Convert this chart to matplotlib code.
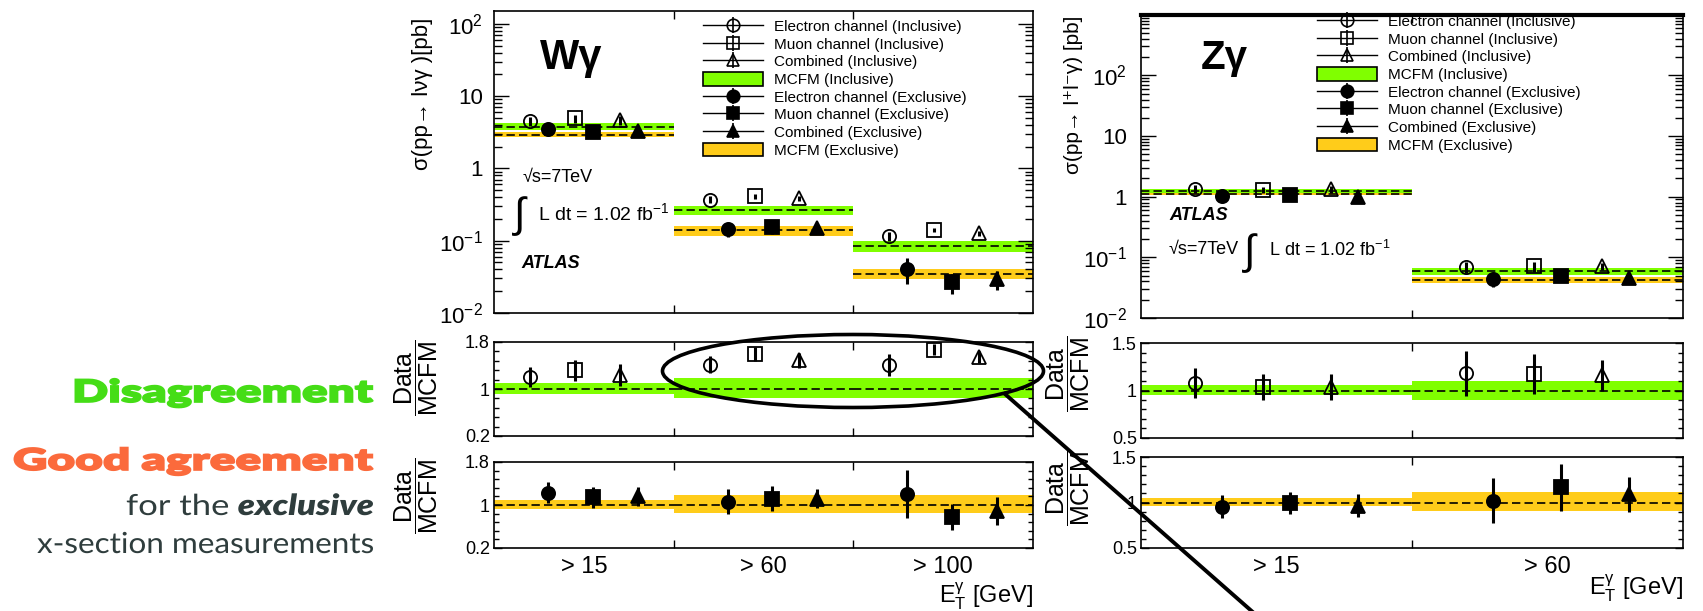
import numpy as np
import matplotlib
matplotlib.use('Agg')
import matplotlib.pyplot as plt
from matplotlib.lines import Line2D
from matplotlib.patches import Patch, Ellipse, PathPatch
from matplotlib.ticker import FixedLocator, LogLocator, NullFormatter
from matplotlib.textpath import TextPath
from matplotlib.font_manager import FontProperties
from matplotlib.transforms import Affine2D

W, H = 1703, 611

plt.rcParams['font.family'] = ['Liberation Sans', 'DejaVu Sans']
plt.rcParams['mathtext.fontset'] = 'custom'
plt.rcParams['mathtext.rm'] = 'Liberation Sans'
plt.rcParams['mathtext.it'] = 'Liberation Sans:italic'
plt.rcParams['mathtext.bf'] = 'Liberation Sans:bold'

# ---- W gamma cross sections [pb], one entry per E_T bin ----
wg_bins = ['> 15', '> 60', '> 100']
wg_el_incl = [4.5, 0.37, 0.115]
wg_mu_incl = [4.9, 0.41, 0.14]
wg_comb_incl = [4.6, 0.385, 0.126]
wg_el_excl = [3.45, 0.143, 0.041]
wg_mu_excl = [3.2, 0.154, 0.0265]
wg_comb_excl = [3.3, 0.149, 0.0295]
wg_el_incl_err = [0.6, 0.04, 0.015]
wg_mu_incl_err = [0.65, 0.03, 0.008]
wg_comb_incl_err = [0.65, 0.03, 0.009]
wg_el_excl_err = [0.55, 0.03, 0.016]
wg_mu_excl_err = [0.55, 0.03, 0.008]
wg_comb_excl_err = [0.5, 0.025, 0.0085]
wg_mcfm_incl = [3.78, 0.265, 0.084]
wg_mcfm_incl_lo = [3.4, 0.23, 0.070]
wg_mcfm_incl_hi = [4.2, 0.30, 0.098]
wg_mcfm_excl = [2.9, 0.14, 0.0345]
wg_mcfm_excl_lo = [2.7, 0.115, 0.0296]
wg_mcfm_excl_hi = [3.2, 0.159, 0.041]

# W gamma data / MCFM
wg_r_el_incl = [1.20, 1.41, 1.41]
wg_r_mu_incl = [1.32, 1.60, 1.67]
wg_r_comb_incl = [1.24, 1.49, 1.54]
wg_r_el_incl_err = [0.17, 0.145, 0.185]
wg_r_mu_incl_err = [0.18, 0.12, 0.095]
wg_r_comb_incl_err = [0.185, 0.125, 0.105]
wg_r_el_excl = [1.23, 1.06, 1.20]
wg_r_mu_excl = [1.14, 1.12, 0.78]
wg_r_comb_excl = [1.16, 1.12, 0.89]
wg_r_el_excl_err = [0.2, 0.23, 0.445]
wg_r_mu_excl_err = [0.195, 0.235, 0.24]
wg_r_comb_excl_err = [0.175, 0.185, 0.255]
wg_r_band_incl_lo = [0.92, 0.85, 0.85]
wg_r_band_incl_hi = [1.11, 1.18, 1.18]
wg_r_band_excl_lo = [0.93, 0.85, 0.85]
wg_r_band_excl_hi = [1.09, 1.18, 1.18]

# ---- Z gamma cross sections [pb] ----
zg_bins = ['> 15', '> 60']
zg_el_incl = [1.34, 0.069]
zg_mu_incl = [1.30, 0.071]
zg_comb_incl = [1.32, 0.071]
zg_el_excl = [1.03, 0.044]
zg_mu_excl = [1.07, 0.0497]
zg_comb_excl = [1.0, 0.0455]
zg_el_incl_err = [0.19, 0.014]
zg_mu_incl_err = [0.17, 0.013]
zg_comb_incl_err = [0.17, 0.01]
zg_el_excl_err = [0.14, 0.011]
zg_mu_excl_err = [0.13, 0.011]
zg_comb_excl_err = [0.13, 0.008]
zg_mcfm_incl = [1.24, 0.0585]
zg_mcfm_incl_lo = [1.15, 0.052]
zg_mcfm_incl_hi = [1.34, 0.066]
zg_mcfm_excl = [1.12, 0.0416]
zg_mcfm_excl_lo = [1.06, 0.0376]
zg_mcfm_excl_hi = [1.18, 0.047]

# Z gamma data / MCFM
zg_r_el_incl = [1.08, 1.18]
zg_r_mu_incl = [1.035, 1.17]
zg_r_comb_incl = [1.04, 1.16]
zg_r_el_incl_err = [0.155, 0.235]
zg_r_mu_incl_err = [0.135, 0.21]
zg_r_comb_incl_err = [0.135, 0.16]
zg_r_el_excl = [0.955, 1.02]
zg_r_mu_excl = [0.99, 1.165]
zg_r_comb_excl = [0.965, 1.09]
zg_r_el_excl_err = [0.13, 0.25]
zg_r_mu_excl_err = [0.12, 0.26]
zg_r_comb_excl_err = [0.125, 0.19]
zg_r_band_incl_lo = [0.95, 0.905]
zg_r_band_incl_hi = [1.055, 1.10]
zg_r_band_excl_lo = [0.96, 0.91]
zg_r_band_excl_hi = [1.05, 1.11]

GREEN = '#80ff00'
YELLOW = '#ffcc1a'
# offsets of the three channels inside each bin
OFF_INCL = [0.2, 0.45, 0.7]
OFF_EXCL = [0.3, 0.55, 0.8]
MARKERS = ['o', 's', '^']

fig = plt.figure(figsize=(W / 100, H / 100), dpi=100)


def fx(px):
    return px / W


def fy(py):
    return 1 - py / H


def add_axes_px(x0, y0, x1, y1):
    return fig.add_axes([fx(x0), fy(y1), (x1 - x0) / W, (y1 - y0) / H])


def style_axes(ax, nbins, ylen, ylen_minor, bin_labels=None):
    ax.set_xlim(0, nbins)
    ax.set_xticks(np.arange(1, nbins))
    ax.set_xticklabels([])
    centers = np.arange(nbins) + 0.5
    ax.set_xticks(centers, bin_labels if bin_labels else [''] * nbins, minor=True)
    ax.tick_params(axis='x', which='major', direction='in', top=True, length=6, width=1)
    ax.tick_params(axis='x', which='minor', length=0, labelsize=17, pad=6, top=True)
    ax.tick_params(axis='y', which='major', direction='in', right=True, length=ylen, width=1)
    ax.tick_params(axis='y', which='minor', direction='in', right=True, length=ylen_minor, width=1)
    for s in ax.spines.values():
        s.set_linewidth(1.2)


def log_axis(ax, top, pad):
    ax.set_yscale('log')
    ax.set_ylim(0.01, top)
    ax.set_yticks([0.01, 0.1, 1, 10, 100],
                  ['$10^{-2}$', '$10^{-1}$', '1', '10', '$10^{2}$'])
    ax.yaxis.set_minor_locator(LogLocator(base=10, subs=np.arange(2, 10), numticks=20))
    ax.yaxis.set_minor_formatter(NullFormatter())
    ax.tick_params(axis='y', which='major', labelsize=16, pad=pad)


def ratio_axis(ax, lo, hi, labels, minor, pad):
    ax.set_ylim(lo, hi)
    ax.set_yticks([lo, 1, hi], labels)
    ax.yaxis.set_minor_locator(FixedLocator(minor))
    ax.tick_params(axis='y', which='major', labelsize=13, pad=pad)


def draw_mcfm(ax, vals, lo, hi, color):
    edges = np.arange(len(vals))
    ax.bar(edges + 0.5, np.subtract(hi, lo), bottom=lo, width=1.0, color=color, lw=0, zorder=1)
    ax.hlines(vals, edges, edges + 1, colors='k', linestyles=(0, (5, 2.5)), lw=1.2, zorder=2)


def draw_points(ax, xoff, vals, errs, marker, filled):
    x = np.arange(len(vals)) + xoff
    ax.errorbar(x, vals, yerr=errs, fmt=marker, ms=9.5, mfc='k' if filled else 'none',
                mec='k', mew=1.3, ecolor='k', elinewidth=2.2, capsize=0, zorder=3)


def legend_handle(marker, filled):
    face = 'k' if filled else 'none'
    return (Line2D([], [], color='k', lw=1.0, marker=marker, ms=9, mfc=face, mec='k', mew=1.2),
            Line2D([], [], ls='none', marker='|', ms=12, mew=1.2, color='k'))


def add_legend(ax, x_px, y_px):
    handles = [legend_handle('o', False), legend_handle('s', False), legend_handle('^', False),
               Patch(facecolor=GREEN, edgecolor='k', lw=1.2),
               legend_handle('o', True), legend_handle('s', True), legend_handle('^', True),
               Patch(facecolor=YELLOW, edgecolor='k', lw=1.2)]
    labels = ['Electron channel (Inclusive)', 'Muon channel (Inclusive)',
              'Combined (Inclusive)', 'MCFM (Inclusive)',
              'Electron channel (Exclusive)', 'Muon channel (Exclusive)',
              'Combined (Exclusive)', 'MCFM (Exclusive)']
    ax.legend(handles, labels, loc='upper left', bbox_to_anchor=(fx(x_px), fy(y_px)),
              bbox_transform=fig.transFigure, frameon=False, borderpad=0, borderaxespad=0,
              handlelength=3.9, handleheight=1.0, handletextpad=0.75, labelspacing=0.17,
              fontsize=11)


# ---------------- W gamma ----------------
ax_wg = add_axes_px(494, 11, 1033, 313)
ax_wg_r1 = add_axes_px(494, 342, 1033, 436)
ax_wg_r2 = add_axes_px(494, 462, 1033, 548)

style_axes(ax_wg, 3, 11, 6)
style_axes(ax_wg_r1, 3, 6, 3.5)
style_axes(ax_wg_r2, 3, 6, 3.5, wg_bins)
log_axis(ax_wg, 150, 8)
for ax in (ax_wg_r1, ax_wg_r2):
    ratio_axis(ax, 0.2, 1.8, ['0.2', '1', '1.8'], np.linspace(0.2, 1.8, 11), 3)

draw_mcfm(ax_wg, wg_mcfm_excl, wg_mcfm_excl_lo, wg_mcfm_excl_hi, YELLOW)
draw_mcfm(ax_wg, wg_mcfm_incl, wg_mcfm_incl_lo, wg_mcfm_incl_hi, GREEN)
for off, m, v, e in zip(OFF_INCL, MARKERS, [wg_el_incl, wg_mu_incl, wg_comb_incl],
                        [wg_el_incl_err, wg_mu_incl_err, wg_comb_incl_err]):
    draw_points(ax_wg, off, v, e, m, False)
for off, m, v, e in zip(OFF_EXCL, MARKERS, [wg_el_excl, wg_mu_excl, wg_comb_excl],
                        [wg_el_excl_err, wg_mu_excl_err, wg_comb_excl_err]):
    draw_points(ax_wg, off, v, e, m, True)

draw_mcfm(ax_wg_r1, np.ones(3), wg_r_band_incl_lo, wg_r_band_incl_hi, GREEN)
for off, m, v, e in zip(OFF_INCL, MARKERS, [wg_r_el_incl, wg_r_mu_incl, wg_r_comb_incl],
                        [wg_r_el_incl_err, wg_r_mu_incl_err, wg_r_comb_incl_err]):
    draw_points(ax_wg_r1, off, v, e, m, False)
draw_mcfm(ax_wg_r2, np.ones(3), wg_r_band_excl_lo, wg_r_band_excl_hi, YELLOW)
for off, m, v, e in zip(OFF_EXCL, MARKERS, [wg_r_el_excl, wg_r_mu_excl, wg_r_comb_excl],
                        [wg_r_el_excl_err, wg_r_mu_excl_err, wg_r_comb_excl_err]):
    draw_points(ax_wg_r2, off, v, e, m, True)

ax_wg.set_ylabel('σ(pp→ lνγ )[pb]', fontsize=16)
ax_wg.yaxis.set_label_coords(-0.113, 0.725)
add_legend(ax_wg, 703, 19)

# ---------------- Z gamma ----------------
ax_zg = add_axes_px(1141, 15, 1683, 318)
ax_zg_r1 = add_axes_px(1141, 343, 1683, 438)
ax_zg_r2 = add_axes_px(1141, 457, 1683, 548)

style_axes(ax_zg, 2, 11, 6)
style_axes(ax_zg_r1, 2, 6, 3.5)
style_axes(ax_zg_r2, 2, 6, 3.5, zg_bins)
log_axis(ax_zg, 990, 10)
ax_zg.spines['top'].set_linewidth(3)
for ax in (ax_zg_r1, ax_zg_r2):
    ratio_axis(ax, 0.5, 1.5, ['0.5', '1', '1.5'], np.linspace(0.5, 1.5, 11), 3)

draw_mcfm(ax_zg, zg_mcfm_excl, zg_mcfm_excl_lo, zg_mcfm_excl_hi, YELLOW)
draw_mcfm(ax_zg, zg_mcfm_incl, zg_mcfm_incl_lo, zg_mcfm_incl_hi, GREEN)
for off, m, v, e in zip(OFF_INCL, MARKERS, [zg_el_incl, zg_mu_incl, zg_comb_incl],
                        [zg_el_incl_err, zg_mu_incl_err, zg_comb_incl_err]):
    draw_points(ax_zg, off, v, e, m, False)
for off, m, v, e in zip(OFF_EXCL, MARKERS, [zg_el_excl, zg_mu_excl, zg_comb_excl],
                        [zg_el_excl_err, zg_mu_excl_err, zg_comb_excl_err]):
    draw_points(ax_zg, off, v, e, m, True)

draw_mcfm(ax_zg_r1, np.ones(2), zg_r_band_incl_lo, zg_r_band_incl_hi, GREEN)
for off, m, v, e in zip(OFF_INCL, MARKERS, [zg_r_el_incl, zg_r_mu_incl, zg_r_comb_incl],
                        [zg_r_el_incl_err, zg_r_mu_incl_err, zg_r_comb_incl_err]):
    draw_points(ax_zg_r1, off, v, e, m, False)
draw_mcfm(ax_zg_r2, np.ones(2), zg_r_band_excl_lo, zg_r_band_excl_hi, YELLOW)
for off, m, v, e in zip(OFF_EXCL, MARKERS, [zg_r_el_excl, zg_r_mu_excl, zg_r_comb_excl],
                        [zg_r_el_excl_err, zg_r_mu_excl_err, zg_r_comb_excl_err]):
    draw_points(ax_zg_r2, off, v, e, m, True)

ax_zg.set_ylabel('σ(pp→ l⁺l⁻γ) [pb]', fontsize=15)
ax_zg.yaxis.set_label_coords(-0.107, 0.736)
add_legend(ax_zg, 1317, 14)

# ratio labels and x-axis titles
ratio_label = r'$\dfrac{\mathrm{Data}}{\mathrm{MCFM}}$'
for ax, xc, yc in ((ax_wg_r1, -0.10, 0.617), (ax_wg_r2, -0.10, 0.616),
                   (ax_zg_r1, -0.09, 0.684), (ax_zg_r2, -0.09, 0.66)):
    ax.set_ylabel(ratio_label, fontsize=18)
    ax.yaxis.set_label_coords(xc, yc)
et_label = r'$\mathrm{E}_{\mathrm{T}}^{\mathrm{γ}}$ [GeV]'
ax_wg_r2.text(1.0, -0.56, et_label, transform=ax_wg_r2.transAxes, ha='right', va='center', fontsize=17)
ax_zg_r2.text(1.0, -0.44, et_label, transform=ax_zg_r2.transAxes, ha='right', va='center', fontsize=17)

# process and luminosity text
fig.text(fx(540), fy(58), 'Wγ', fontsize=30, weight='bold', va='center')
fig.text(fx(523), fy(177), '√s=7TeV', fontsize=13, va='center')
fig.text(fx(514), fy(216), '∫', fontsize=30, va='center')
fig.text(fx(538), fy(213), 'L dt = 1.02 fb$^{-1}$', fontsize=14, va='center')
fig.text(fx(521), fy(263), 'ATLAS', fontsize=13, weight='bold', style='italic', va='center')

fig.text(fx(1201), fy(58), 'Zγ', fontsize=29, weight='bold', va='center')
fig.text(fx(1169), fy(216), 'ATLAS', fontsize=13, weight='bold', style='italic', va='center')
fig.text(fx(1169), fy(250), '√s=7TeV', fontsize=13, va='center')
fig.text(fx(1244), fy(253), '∫', fontsize=30, va='center')
fig.text(fx(1269), fy(250), 'L dt = 1.02 fb$^{-1}$', fontsize=13, va='center')

# highlight of the inclusive ratio and pointer line
fig.add_artist(Ellipse((fx(853), fy(371)), width=381 / W, height=73 / H,
                       transform=fig.transFigure, fill=False, ec='k', lw=2.6, zorder=10))
fig.add_artist(Line2D([fx(1005), fx(1255)], [fy(394), fy(614)], transform=fig.transFigure,
                      color='k', lw=2.8, zorder=10))


# side comments, stretched to fill their width
def banner(parts, right, base, size, width, stroke=0.0):
    paths = [TextPath((0, 0), s, size=size, prop=fp) for s, fp, c in parts]
    gap = 0.28 * size
    widths = [p.get_extents().x1 for p in paths]
    total = sum(widths) + gap * (len(paths) - 1)
    sx = width / total
    x = right - width
    for (s, fp, c), p, w in zip(parts, paths, widths):
        tr = Affine2D().scale(sx, 1).translate(x, H - base)
        fig.add_artist(PathPatch(p, transform=tr, fc=c, ec=c, lw=stroke))
        x += (w + gap) * sx


bold = FontProperties(family='Lato', weight='heavy')
regular = FontProperties(family='Lato')
bold_it = FontProperties(family='Lato', weight='heavy', style='italic')
dark = '#2f3d3d'
banner([('Disagreement', bold, '#45dd16')], 373, 402, 31, 301, stroke=1.2)
banner([('Good agreement', bold, '#fb6a3c')], 373, 470, 30, 360, stroke=1.2)
banner([('for the', regular, dark), ('exclusive', bold_it, dark)], 373, 515, 29, 247)
banner([('x-section measurements', regular, dark)], 373, 553, 29, 336)

fig.savefig('out.png', dpi=100)
